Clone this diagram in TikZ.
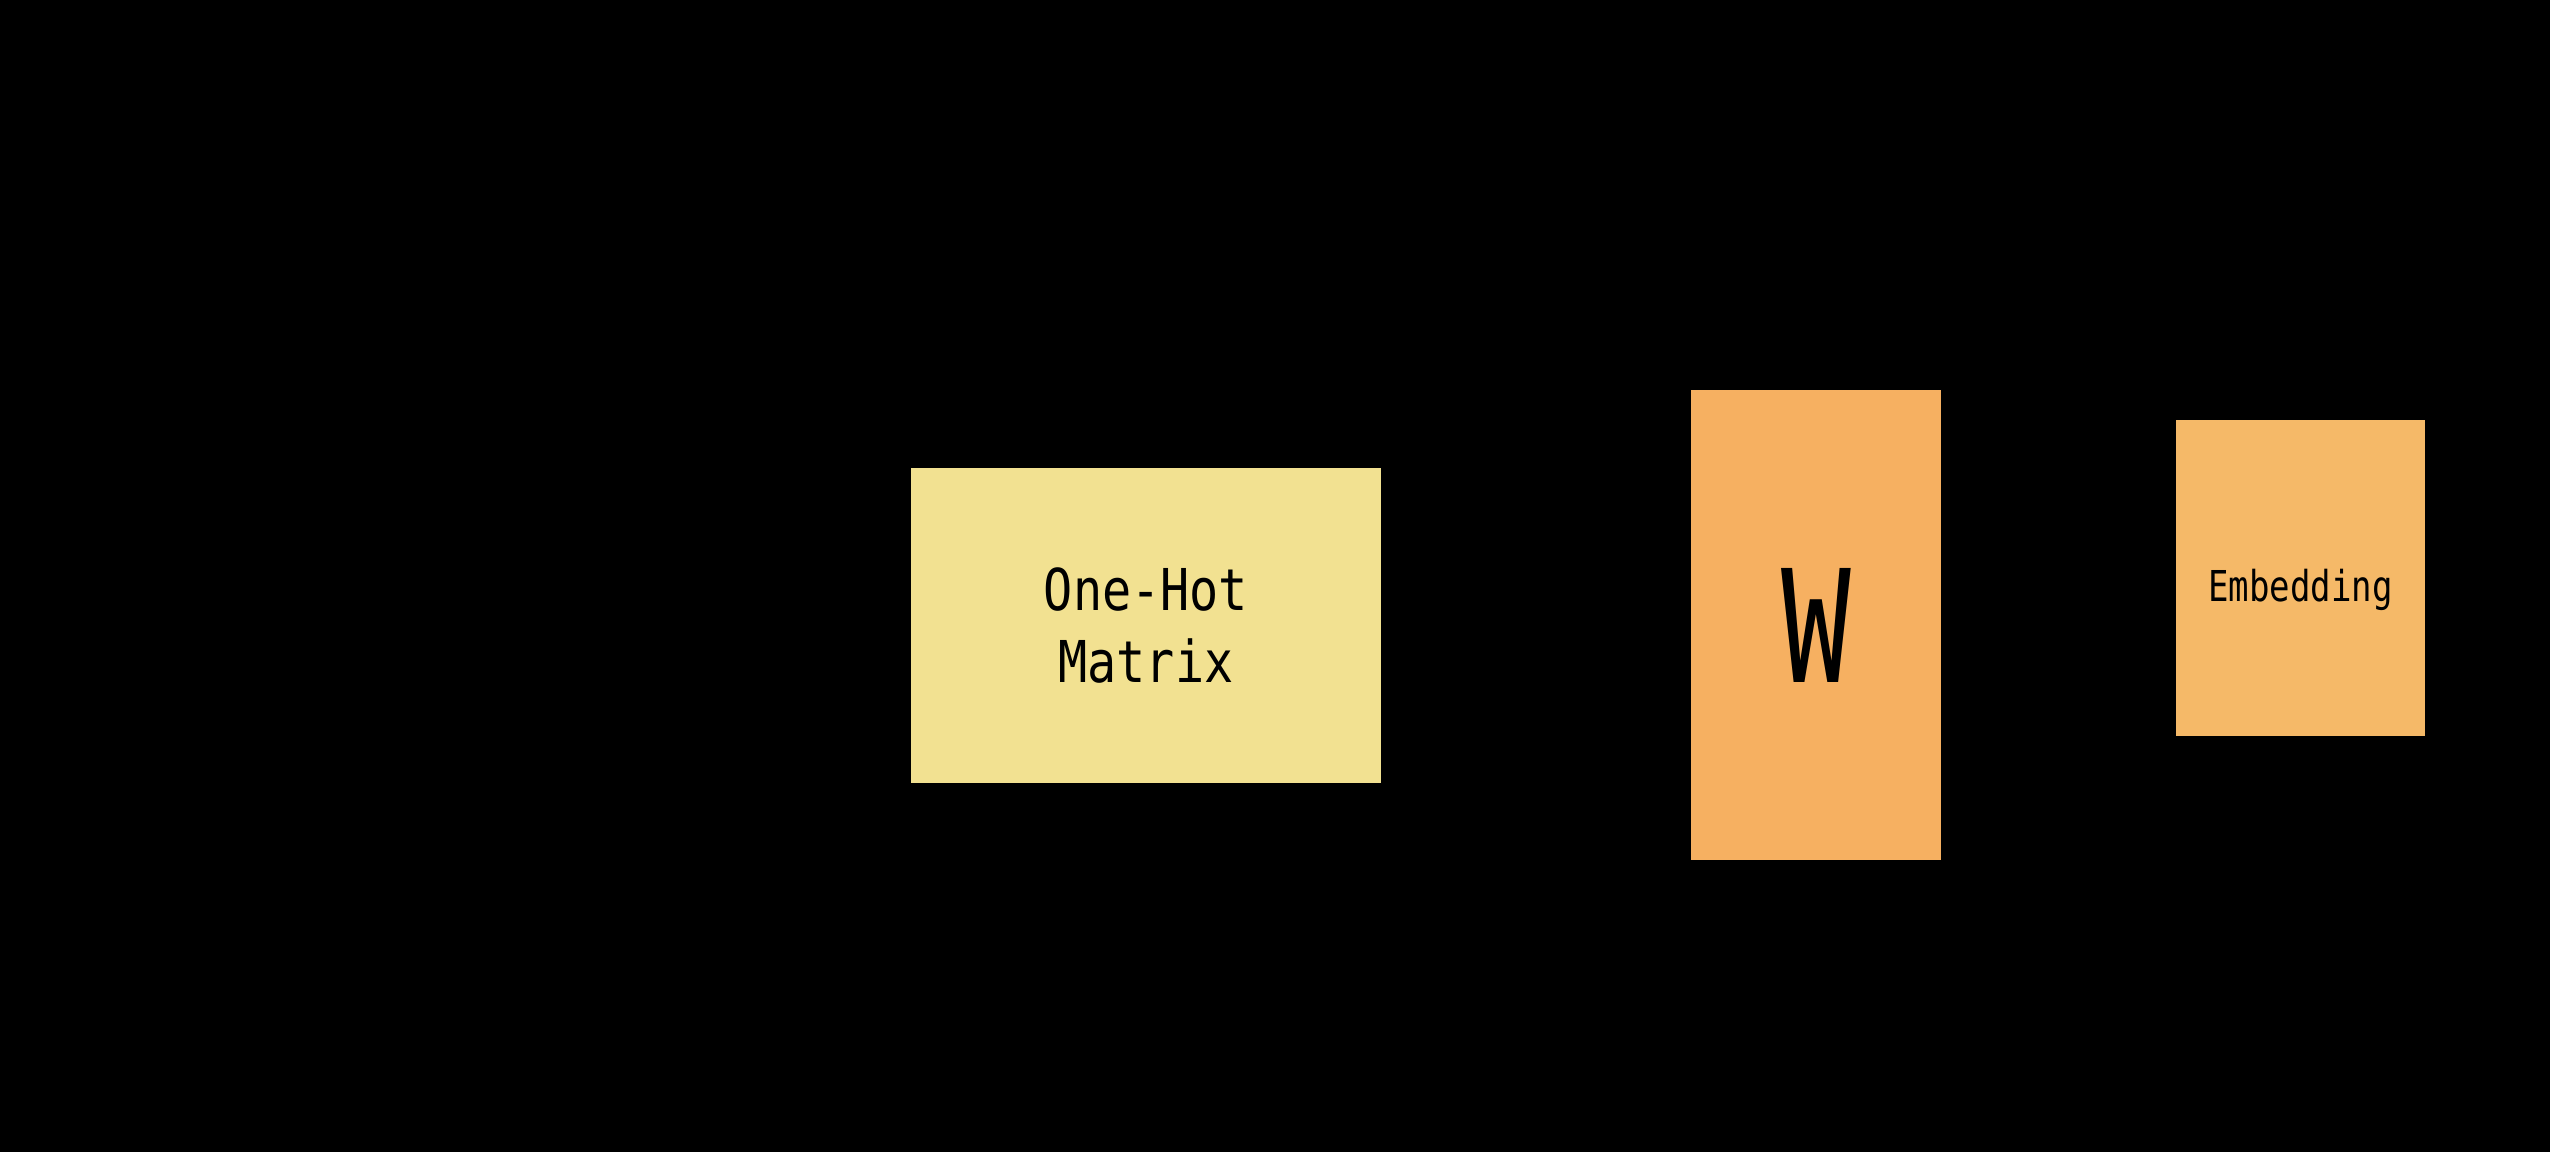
\documentclass[tikz,border=0pt]{standalone}
\usepackage{fontspec}
\newfontfamily\monof{DejaVu Sans Mono}[FakeStretch=0.84]
\newfontfamily\embfont{DejaVu Sans Mono}[FakeStretch=0.80]
\newfontfamily\wfont{DejaVu Sans Mono}[FakeStretch=0.74]
\definecolor{hotyellow}{RGB}{242,225,145}
\definecolor{worange}{RGB}{246,176,97}
\definecolor{embor}{RGB}{245,185,104}
\begin{document}
\begin{tikzpicture}[x=0.01cm,y=-0.01cm,
  blockbox/.style={draw=none, inner sep=0pt, outer sep=0pt, align=center, text=black}]
\fill[black] (0,0) rectangle (2550,1152);
\useasboundingbox (0,0) rectangle (2550,1152);
\node[blockbox, fill=hotyellow, minimum width=4.70cm, minimum height=3.15cm,
      font=\monof\fontsize{16.4}{20.2}\selectfont] (onehot) at (1146,625.5) {One-Hot\\Matrix};
\node[blockbox, fill=worange, minimum width=2.50cm, minimum height=4.70cm,
      font=\wfont\fontsize{44.5}{50}\selectfont] (w) at (1816,625) {W};
\node[blockbox, fill=embor, minimum width=2.49cm, minimum height=3.16cm] (emb) at (2300.5,578) {};
\node[inner sep=0pt, anchor=base, font=\embfont\fontsize{12.1}{14}\selectfont] (embtext) at (2300.5,602) {Embedding};
\end{tikzpicture}
\end{document}
